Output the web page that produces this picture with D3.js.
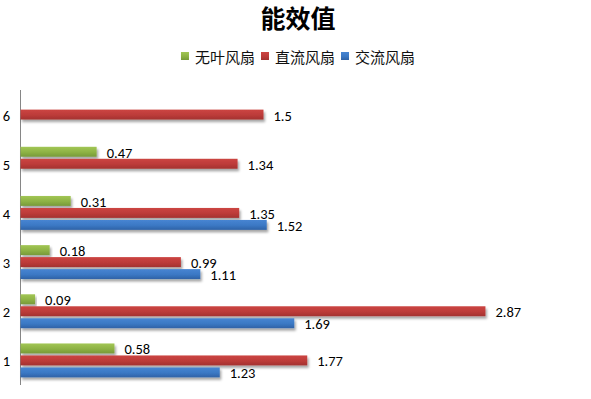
<!DOCTYPE html>
<html>
<head>
<meta charset="utf-8">
<script src="https://cdn.jsdelivr.net/npm/d3@7"></script>
<style>
  html, body { margin: 0; padding: 0; background: #fff; }
  svg { display: block; }
</style>
</head>
<body>
<div id="chart"></div>
<script>
// chart data
const categories = ['1', '2', '3', '4', '5', '6'];
const seriesNames = ['无叶风扇', '直流风扇', '交流风扇'];
const bladeless = [0.58, 0.09, 0.18, 0.31, 0.47, null];
const dcFan = [1.77, 2.87, 0.99, 1.35, 1.34, 1.5];
const acFan = [1.23, 1.69, 1.11, 1.52, null, null];
const chartTitle = '能效值';

const width = 591, height = 399;
const seriesValues = [bladeless, dcFan, acFan];
const colors = [
  { base: '#8db244', top: '#a2c655', bottom: '#779a39' },
  { base: '#bc3b39', top: '#cc4542', bottom: '#a33230' },
  { base: '#3b78c4', top: '#4785d2', bottom: '#2f62a6' }
];

const svg = d3.select('#chart').append('svg')
  .attr('width', width)
  .attr('height', height)
  .attr('viewBox', `0 0 ${width} ${height}`);

const defs = svg.append('defs');
colors.forEach((c, i) => {
  const grad = defs.append('linearGradient')
    .attr('id', 'grad' + i)
    .attr('x1', 0).attr('y1', 0).attr('x2', 0).attr('y2', 1);
  grad.append('stop').attr('offset', '0%').attr('stop-color', c.top);
  grad.append('stop').attr('offset', '55%').attr('stop-color', c.base);
  grad.append('stop').attr('offset', '100%').attr('stop-color', c.bottom);
});

const shadow = defs.append('filter')
  .attr('id', 'shadow')
  .attr('x', '-5%').attr('y', '-30%')
  .attr('width', '115%').attr('height', '190%');
shadow.append('feDropShadow')
  .attr('dx', 1.5).attr('dy', 2.5)
  .attr('stdDeviation', 1.2)
  .attr('flood-color', '#000')
  .attr('flood-opacity', 0.35);

// scales
const x = d3.scaleLinear().domain([0, 3]).range([20.5, 506.5]);
const y0 = d3.scaleBand()
  .domain(categories.slice().reverse())
  .range([90, 385])
  .paddingInner(0.31)
  .paddingOuter(0.155);
const y1 = d3.scaleBand()
  .domain(seriesNames)
  .range([0, y0.bandwidth()])
  .paddingInner(0.17);

// title
svg.append('text')
  .attr('x', 298)
  .attr('y', 17)
  .attr('text-anchor', 'middle')
  .attr('dominant-baseline', 'central')
  .style('font-family', '"Noto Sans CJK SC", sans-serif')
  .style('font-weight', 'bold')
  .style('font-size', '25px')
  .text(chartTitle);

// legend
const legend = svg.append('g');
let lx = 0;
seriesNames.forEach((name, i) => {
  const item = legend.append('g').attr('transform', `translate(${lx},0)`);
  item.append('rect')
    .attr('x', 0).attr('y', -4)
    .attr('width', 8).attr('height', 8)
    .attr('fill', `url(#grad${i})`);
  const t = item.append('text')
    .attr('x', 14)
    .attr('y', 0)
    .attr('dominant-baseline', 'central')
    .style('font-family', '"Noto Sans CJK SC", sans-serif')
    .style('font-size', '15px')
    .style('fill', '#111')
    .text(name);
  lx += 14 + t.node().getComputedTextLength() + 6;
});
const legendWidth = lx - 6;
legend.attr('transform', `translate(${298 - legendWidth / 2},56)`);

// axis line
svg.append('line')
  .attr('x1', x(0)).attr('x2', x(0))
  .attr('y1', 90).attr('y2', 385)
  .attr('stroke', '#868686')
  .attr('stroke-width', 1);

// category labels
const labelFont = 'Carlito, Lato, "Open Sans", sans-serif';
svg.append('g')
  .selectAll('text')
  .data(categories)
  .join('text')
  .attr('x', 10)
  .attr('y', d => y0(d) + y0.bandwidth() / 2 + 1)
  .attr('text-anchor', 'end')
  .attr('dominant-baseline', 'central')
  .style('font-family', labelFont)
  .style('font-size', '14.5px')
  .style('fill', '#000')
  .text(d => d);

// bars
const barData = [];
categories.forEach((cat, ci) => {
  seriesNames.forEach((name, si) => {
    const v = seriesValues[si][ci];
    if (v != null) barData.push({ cat, name, si, value: v });
  });
});

const bars = svg.append('g')
  .selectAll('g')
  .data(barData)
  .join('g')
  .attr('transform', d => `translate(0,${y0(d.cat) + y1(d.name)})`);

bars.append('rect')
  .attr('x', x(0))
  .attr('y', 0)
  .attr('width', d => x(d.value) - x(0))
  .attr('height', y1.bandwidth())
  .attr('fill', d => `url(#grad${d.si})`)
  .attr('filter', 'url(#shadow)');

bars.append('text')
  .attr('x', d => x(d.value) + 10)
  .attr('y', y1.bandwidth() / 2 + 1)
  .attr('dominant-baseline', 'central')
  .style('font-family', labelFont)
  .style('font-size', '14.5px')
  .style('fill', '#000')
  .text(d => d.value);
</script>
</body>
</html>
